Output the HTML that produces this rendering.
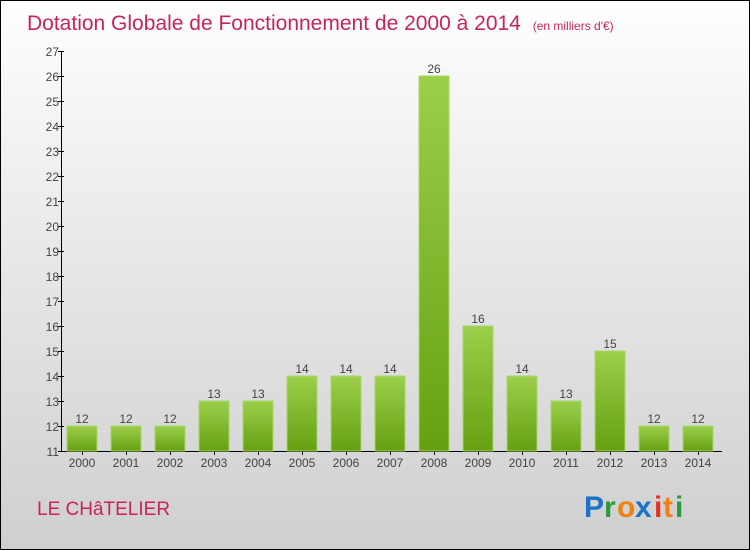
<!DOCTYPE html>
<html><head><meta charset="utf-8"><style>
body{margin:0}
#c{position:relative;width:748px;height:548px;border:1px solid #000;background:linear-gradient(#ffffff,#f2f2f2 25%,#cfcfcf);font-family:"Liberation Sans",sans-serif;overflow:hidden}
</style></head><body>
<div id="c">
<svg width="748" height="548" style="position:absolute;left:0;top:0">
<defs><linearGradient id="g" x1="0" y1="0" x2="0" y2="1"><stop offset="0" stop-color="#9ccf4a"/><stop offset="1" stop-color="#66a012"/></linearGradient></defs>
<text x="26" y="29" font-size="21" fill="#c8245a" font-weight="300">Dotation Globale de Fonctionnement de 2000 à 2014 <tspan font-size="12" dx="6">(en milliers d'€)</tspan></text>
<g id="axes"></g><g id="bars"></g>
<text x="36" y="514" font-size="19" fill="#c8245a">LE CHâTELIER</text>
<g font-size="30" font-weight="bold">
<text x="583" y="516" fill="#1a73c8">P</text><text x="603" y="516" fill="#2a9a3a">r</text><text x="616" y="516" fill="#f08010">o</text><text x="634" y="516" fill="#1a73c8">x</text><text x="653" y="516" fill="#e83020">i</text><text x="662" y="516" fill="#f08010">t</text><text x="674" y="516" fill="#2a9a3a">i</text>
</g>
</svg>
</div>
<script>
const years=["2000","2001","2002","2003","2004","2005","2006","2007","2008","2009","2010","2011","2012","2013","2014"];
const values=[12,12,12,13,13,14,14,14,26,16,14,13,15,12,12];
const yTicks=[11,12,13,14,15,16,17,18,19,20,21,22,23,24,25,26,27];
const NS="http://www.w3.org/2000/svg";
const yMin=11,yMax=27,plotTop=50,plotBot=450,x0=60;
const y=v=>plotBot-(v-yMin)/(yMax-yMin)*(plotBot-plotTop);
const xc=i=>81+i*44;
function mk(t,a,p){const e=document.createElementNS(NS,t);for(const k in a)e.setAttribute(k,a[k]);p.appendChild(e);return e;}
const ax=document.getElementById('axes'),bg=document.getElementById('bars');
let l=mk('line',{x1:x0+.5,y1:plotTop,x2:x0+.5,y2:plotBot,stroke:'#000'},ax);


l=mk('line',{x1:x0,y1:plotBot+.5,x2:721,y2:plotBot+.5,stroke:'#000'},ax);


yTicks.forEach(v=>{
 const t=mk('line',{x1:x0-3,x2:x0+3,y1:y(v)+.5,y2:y(v)+.5,stroke:'#000'},ax);
 
 
 const tx=mk('text',{x:x0-2,y:y(v)+5,'font-size':12,fill:'#444','text-anchor':'end'},ax);
 tx.textContent=v;
 
 
});
years.forEach((yr,i)=>{
 const v=values[i];
 const r=mk('rect',{x:xc(i)-15,y:y(v),width:30,height:plotBot-y(v),fill:'url(#g)',stroke:'#a6d86a','stroke-width':1},bg);
 
 
 const t=mk('text',{x:xc(i),y:y(v)-3,'font-size':12,fill:'#444','text-anchor':'middle'},bg);
 t.textContent=v;
 
 
 const tk=mk('line',{x1:xc(i)+.5,x2:xc(i)+.5,y1:plotBot,y2:plotBot+4,stroke:'#000'},ax);
 
 
 const xl=mk('text',{x:xc(i),y:plotBot+16,'font-size':12,fill:'#444','text-anchor':'middle'},ax);
 xl.textContent=yr;
 
 
});
</script>
</body></html>
